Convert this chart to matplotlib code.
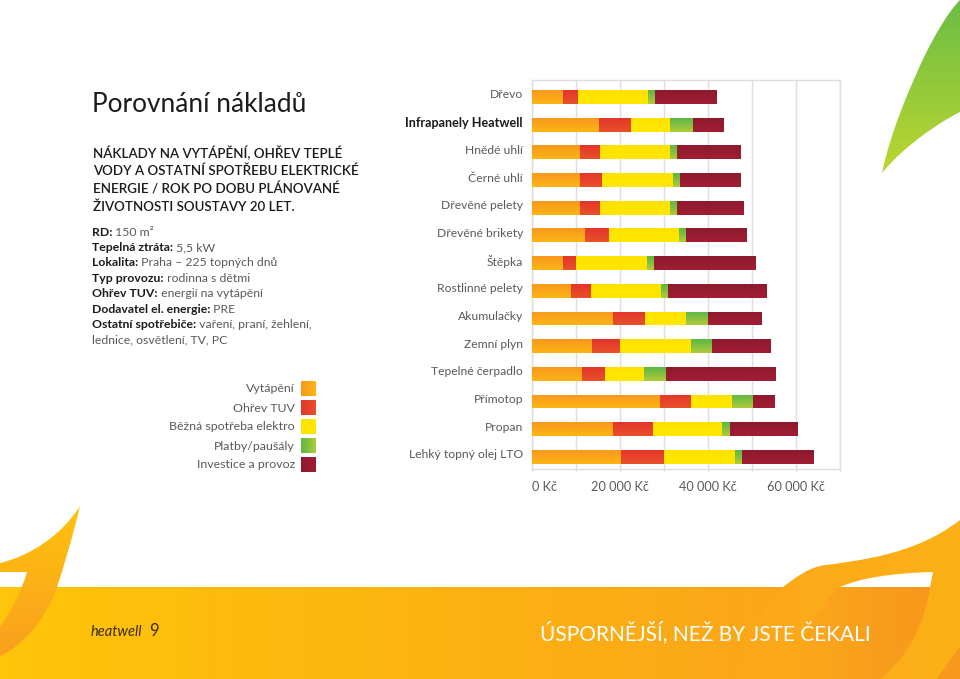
import numpy as np
import matplotlib
matplotlib.use('Agg')
import matplotlib.pyplot as plt
from matplotlib.colors import LinearSegmentedColormap
from matplotlib.patches import PathPatch, Rectangle
from matplotlib.path import Path
from matplotlib.transforms import ScaledTranslation

plt.rcParams['font.family'] = ['Lato', 'DejaVu Sans']

categories = ['Dřevo', 'Infrapanely Heatwell', 'Hnědé uhlí', 'Černé uhlí', 'Dřevěné pelety',
              'Dřevěné brikety', 'Štěpka', 'Rostlinné pelety', 'Akumulačky', 'Zemní plyn',
              'Tepelné čerpadlo', 'Přímotop', 'Propan', 'Lehký topný olej LTO']
vytapeni = [7000, 15200, 10800, 10800, 10800, 12000, 7000, 8900, 18300, 13600, 11400, 29000, 18300, 20150]
ohrev_tuv = [3400, 7400, 4600, 5200, 4600, 5600, 3000, 4400, 7300, 6450, 5200, 7100, 9100, 9900]
spotreba = [16000, 8800, 16000, 16050, 16000, 15850, 16150, 16000, 9450, 16050, 8800, 9250, 15700, 16050]
platby = [1500, 5200, 1500, 1500, 1500, 1650, 1500, 1600, 5000, 4750, 5100, 4850, 1900, 1600]
investice = [14000, 6900, 14450, 13800, 15100, 13650, 23050, 22350, 12050, 13250, 24850, 4900, 15300, 16350]
series = [vytapeni, ohrev_tuv, spotreba, platby, investice]
series_names = ['Vytápění', 'Ohřev TUV', 'Běžná spotřeba elektro', 'Platby/paušály', 'Investice a provoz']
series_grad = [('#F8981D', '#FDB515'), ('#E2362B', '#E9502A'), ('#FFE200', '#FFE800'),
               ('#5CB647', '#B0CB38'), ('#8E1A2E', '#A11D33')]
xticks = [0, 20000, 40000, 60000]
xticklabels = ['0 Kč', '20 000 Kč', '40 000 Kč', '60 000 Kč']

details = [('RD:', ' 150 m²'), ('Tepelná ztráta:', ' 5,5 kW'), ('Lokalita:', ' Praha – 225 topných dnů'),
           ('Typ provozu:', ' rodinna s dětmi'), ('Ohřev TUV:', ' energií na vytápění'),
           ('Dodavatel el. energie:', ' PRE'), ('Ostatní spotřebiče:', ' vaření, praní, žehlení,'),
           ('', 'lednice, osvětlení, TV, PC')]
heading = ['NÁKLADY NA VYTÁPĚNÍ, OHŘEV TEPLÉ', 'VODY A OSTATNÍ SPOTŘEBU ELEKTRICKÉ',
           'ENERGIE / ROK PO DOBU PLÁNOVANÉ', 'ŽIVOTNOSTI SOUSTAVY 20 LET.']

TEXT = '#5a5a5a'
DARK = '#1c1c1c'


def gradient_fill(ax, patch, c1, c2, vertical=True):
    # gradient image clipped to the shape
    cmap = LinearSegmentedColormap.from_list('g', [c1, c2])
    g = np.linspace(0, 1, 128)
    g = g[:, None] if vertical else g[None, :]
    x0, y0, x1, y1 = patch.get_path().transformed(patch.get_patch_transform()).get_extents().extents
    xlim, ylim = ax.get_xlim(), ax.get_ylim()
    im = ax.imshow(g, cmap=cmap, extent=(x0, x1, y1, y0), origin='upper', aspect='auto',
                   zorder=patch.get_zorder(), interpolation='bilinear')
    im.set_clip_path(patch)
    ax.set_xlim(xlim)
    ax.set_ylim(ylim)


fig = plt.figure(figsize=(9.6, 6.79), dpi=100, facecolor='white')

# page background in pixel coordinates
bg = fig.add_axes([0, 0, 1, 1], zorder=0)
bg.set_xlim(0, 960)
bg.set_ylim(679, 0)
bg.axis('off')


def shape(verts, codes, c1, c2, vertical=True, z=1):
    p = PathPatch(Path(verts, codes), fc='none', ec='none', zorder=z)
    bg.add_patch(p)
    gradient_fill(bg, p, c1, c2, vertical)


M, L, C, Z = Path.MOVETO, Path.LINETO, Path.CURVE4, Path.CLOSEPOLY

band = Rectangle((0, 587), 960, 92, fc='none', ec='none', zorder=1)
bg.add_patch(band)
gradient_fill(bg, band, '#FFC50A', '#F99F1C', vertical=False)

# left flame
shape([(0, 563), (30, 556), (62, 535), (80, 506), (72, 540), (62, 572), (57, 587), (48, 615), (25, 645), (0, 656),
       (0, 627), (12, 610), (22, 590), (27, 572), (0, 572), (0, 563)],
      [M, C, C, C, C, C, C, C, C, C, L, C, C, C, L, L], '#FFC20E', '#F9A01E', z=2)

# right flame body, inner part and white slit
shape([(733, 679), (745, 640), (760, 610), (783, 587), (795, 578), (810, 566), (827, 565), (860, 560), (915, 555),
       (960, 520), (960, 647), (950, 660), (943, 670), (937, 679), (733, 679)],
      [M, C, C, C, C, C, C, C, C, C, L, C, C, C, L], '#FBA71B', '#FCB116', vertical=False, z=2)
shape([(840, 587), (930, 587), (925, 625), (905, 660), (880, 679), (792, 679), (795, 650), (815, 610), (840, 587)],
      [M, L, C, C, C, L, C, C, C], '#FBA81B', '#F8981D', vertical=False, z=3)
bg.add_patch(PathPatch(Path([(840, 587), (860, 578), (893, 573), (933, 572), (930, 587), (840, 587)],
                            [M, C, C, C, L, L]), fc='white', ec='none', zorder=3))
bg.add_patch(PathPatch(Path([(960, 647), (950, 660), (943, 670), (937, 679), (960, 679), (960, 647)],
                            [M, C, C, C, L, L]), fc='#F8981D', ec='none', zorder=3))

# green leaf top right
shape([(882, 173), (890, 135), (907, 93), (925, 55), (935, 35), (948, 12), (960, 0), (960, 112), (940, 122), (905, 145),
       (882, 173)],
      [M, C, C, C, C, C, C, L, C, C, C], '#6ABD45', '#BDD630', z=2)

# left column text
bg.text(92, 105, 'Porovnání nákladů', fontsize=18.9, color=DARK, va='center', ha='left')
for i, line in enumerate(heading):
    bg.text(93, 152.5 + i * 18, line, fontsize=9.6, color=DARK, va='center', ha='left', fontweight='semibold')

renderer = fig.canvas.get_renderer()
for i, (b, t) in enumerate(details):
    y = 232 + i * 15.45
    x = 92
    if b:
        tb = bg.text(x, y, b, fontsize=8.85, color=DARK, va='center', ha='left', fontweight='bold')
        x = bg.transData.inverted().transform(tb.get_window_extent(renderer))[1][0]
    bg.text(x, y, t, fontsize=8.85, color=TEXT, va='center', ha='left')

# legend
for i, (name, (c1, c2)) in enumerate(zip(series_names, series_grad)):
    y = 381 + i * 19
    bg.text(295, y + 8, name, fontsize=8.95, color=TEXT, va='center', ha='right')
    r = Rectangle((301, y), 15, 15, fc='none', ec='none', zorder=2)
    bg.add_patch(r)
    gradient_fill(bg, r, c1, c2, vertical=False)

# footer
bg.text(91, 632, 'heatwell', fontsize=10.5, style='italic', color='#3a2a10', va='center', ha='left', zorder=5)
bg.text(149, 631, '9', fontsize=12, color='#3a2a10', va='center', ha='left', zorder=5)
bg.text(540, 633, 'ÚSPORNĚJŠÍ, NEŽ BY JSTE ČEKALI', fontsize=15, color='white', va='center', ha='left', zorder=5)

# chart
ax = fig.add_axes([532 / 960, 1 - 469 / 679, 308 / 960, 389 / 679], zorder=2)
ax.patch.set_alpha(0)
ypos = np.arange(len(categories))
ax.set_xlim(0, 70000)
ax.set_ylim(13.44, -0.614)
ax.set_xticks(np.arange(0, 70001, 10000))
ax.set_xticklabels(['' for _ in range(8)])
ax.grid(axis='x', color='#dedede', lw=1)
ax.set_axisbelow(True)
for s in ax.spines.values():
    s.set_color('#dedede')
    s.set_linewidth(1)
ax.tick_params(axis='x', length=2, color='#dedede')
ax.tick_params(axis='y', length=0, pad=6.5)

left = np.zeros(len(categories))
for vals, (c1, c2) in zip(series, series_grad):
    bars = ax.barh(ypos, vals, left=left, height=0.5, color='none', zorder=3)
    for b in bars:
        gradient_fill(ax, b, c1, c2)
    left += np.array(vals)

ax.set_yticks(ypos)
ax.set_yticklabels(categories, fontsize=8.7, color=TEXT)
lift = ScaledTranslation(0, 3 / 100, fig.dpi_scale_trans)
for lab in ax.get_yticklabels():
    lab.set_transform(lab.get_transform() + lift)
    if lab.get_text() == 'Infrapanely Heatwell':
        lab.set_fontweight('bold')
        lab.set_fontsize(9.05)
        lab.set_color(DARK)

# tick labels below the axis ("0 Kč" starts at the axis line)
for v, t in zip(xticks, xticklabels):
    ax.annotate(t, xy=(v, 0), xycoords=('data', 'axes fraction'), xytext=(0, -13), textcoords='offset points',
                fontsize=9.2, color=TEXT, va='center', ha='left' if v == 0 else 'center',
                annotation_clip=False)

fig.savefig('out.png', dpi=100)
